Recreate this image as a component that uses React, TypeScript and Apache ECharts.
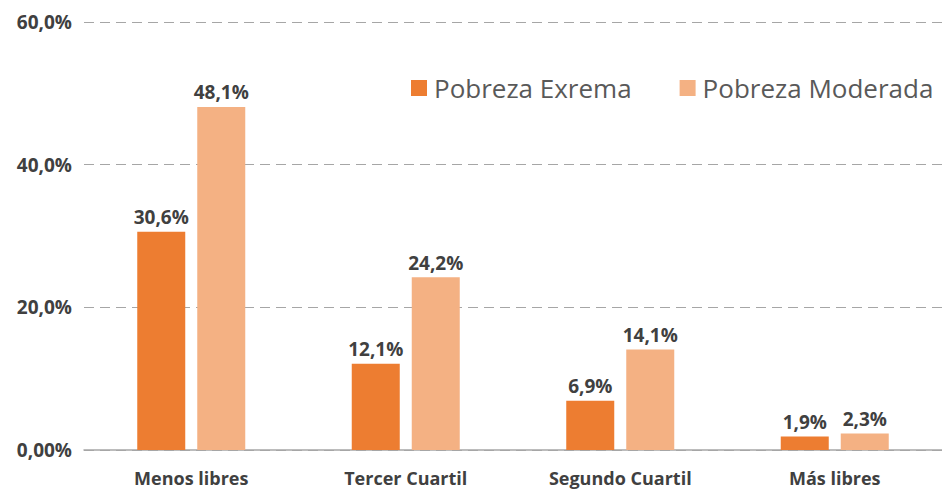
import React, { useEffect, useRef } from "react";
import * as echarts from "echarts";

const categories = ["Menos libres", "Tercer Cuartil", "Segundo Cuartil", "Más libres"];
const extrema = [30.6, 12.1, 6.9, 1.9];
const moderada = [48.1, 24.2, 14.1, 2.3];
const yTickLabels: Record<number, string> = { 0: "0,00%", 20: "20,0%", 40: "40,0%", 60: "60,0%" };

const fmt = (v: number) => v.toFixed(1).replace(".", ",") + "%";

export default function App() {
  const ref = useRef<HTMLDivElement>(null);
  useEffect(() => {
    const chart = echarts.init(ref.current!, null, { renderer: "svg" });
    const font = "'Open Sans', 'DejaVu Sans', sans-serif";
    const labelStyle = {
      show: true,
      position: "top" as const,
      distance: 5,
      color: "#404040",
      fontSize: 19,
      fontWeight: "bold" as const,
      fontFamily: font,
      formatter: (p: any) => fmt(p.value),
    };
    chart.setOption({
      animation: false,
      textStyle: { fontFamily: font },
      legend: {
        top: 70,
        left: 406,
        itemWidth: 16,
        itemHeight: 16,
        itemGap: 48,
        icon: "rect",
        textStyle: { fontSize: 26, color: "#595959", fontFamily: font, padding: [0, 0, 0, 2] },
        data: ["Pobreza Exrema", "Pobreza Moderada"],
      },
      grid: { left: 84, right: 0, top: 22, bottom: 41, containLabel: false },
      xAxis: {
        type: "category",
        data: categories,
        axisLine: { lineStyle: { color: "#a6a6a6", width: 1.5 } },
        axisTick: { show: false },
        axisLabel: {
          color: "#404040",
          fontSize: 18,
          lineHeight: 20,
          fontWeight: "bold",
          fontFamily: font,
          margin: 18,
        },
      },
      yAxis: {
        type: "value",
        min: 0,
        max: 60,
        interval: 20,
        axisLine: { show: false },
        axisTick: { show: false },
        splitLine: { lineStyle: { color: "#a6a6a6", type: [10, 6], width: 1.2 } },
        axisLabel: {
          color: "#404040",
          fontSize: 19,
          fontWeight: "bold",
          fontFamily: font,
          margin: 12,
          formatter: (v: number) => yTickLabels[v] ?? "",
        },
      },
      series: [
        {
          name: "Pobreza Exrema",
          type: "bar",
          data: extrema,
          barWidth: 48,
          barGap: "25%",
          itemStyle: { color: "#ED7D31" },
          label: labelStyle,
        },
        {
          name: "Pobreza Moderada",
          type: "bar",
          data: moderada,
          barWidth: 48,
          itemStyle: { color: "#F4B183" },
          label: labelStyle,
        },
      ],
    });
    return () => chart.dispose();
  }, []);
  return <div ref={ref} style={{ width: 942, height: 491, position: "absolute", left: 0, top: 0, background: "#fff" }} />;
}
